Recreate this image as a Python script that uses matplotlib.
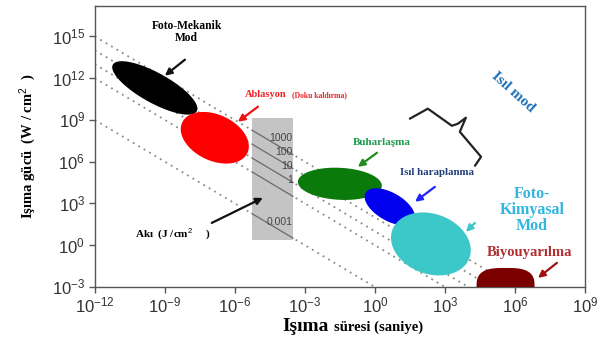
import numpy as np
import matplotlib
matplotlib.use("Agg")
import matplotlib.pyplot as plt
from matplotlib.ticker import FixedLocator, FuncFormatter

plt.rcParams["mathtext.fontset"] = "custom"
plt.rcParams["mathtext.rm"] = "Liberation Sans"
plt.rcParams["mathtext.it"] = "Liberation Sans"
SERIF = "Liberation Serif"

# regions: (label, log10 time [s], log10 irradiance [W/cm2], semi-axes px, angle, colour)
region_names = ["Foto-Mekanik", "Ablasyon", "Buharlasma", "Isil haraplanma", "Foto-Kimyasal", "Biyouyarilma"]
region_logt = [-9.43, -6.86, -1.5, 0.64, 2.4, 5.6]
region_logi = [11.3, 7.72, 4.41, 2.76, 0.09, -3.0]
region_a = [48, 36, 42, 28, 41, 29]
region_b = [15, 23, 16, 14, 30, 19]
region_angle = [-29, -25, -3, -30, -20, 0]
region_power = [2, 2, 2, 2, 2, 3]
region_colors = ["#000000", "#ff0000", "#0a7a0a", "#0000ee", "#3cc8c8", "#7a0000"]

# fluence lines (J/cm2)
fluences = [1000, 100, 10, 1, 0.001]
fluence_labels = ["1000", "100", "10", "1", "0.001"]

xticks = [-12, -9, -6, -3, 0, 3, 6, 9]
yticks = [-3, 0, 3, 6, 9, 12, 15]

fig = plt.figure(figsize=(6.08, 3.42), dpi=100)
ax = fig.add_axes([0.156, 0.161, 0.806, 0.822])
ax.set_xscale("log")
ax.set_yscale("log")
ax.set_xlim(1e-12, 1e9)
ax.set_ylim(1e-3, 10**17.2)

fw, fh = fig.get_size_inches() * fig.dpi
pos = ax.get_position()
sx = pos.width * fw / 21.0
sy = pos.height * fh / 20.2

# fluence lines
t = np.logspace(-12, 9, 400)
for E in fluences:
    ax.plot(t, E / t, color="#8a8a8a", lw=1.3, ls=(0, (1, 2.5)), zorder=1)

# grey box with solid lines
bx0, bx1, by0, by1 = -5.27, -3.51, 0.38, 9.16
ax.fill([10**bx0, 10**bx1, 10**bx1, 10**bx0], [10**by0, 10**by0, 10**by1, 10**by1],
        color="#c4c4c4", zorder=2, lw=0)
tb = np.logspace(bx0, bx1, 50)
for E, lab in zip(fluences, fluence_labels):
    yy = E / tb
    m = (yy >= 10**by0) & (yy <= 10**by1)
    ax.plot(tb[m], yy[m], color="#6a6a6a", lw=0.9, zorder=3)
    ax.text(10**-3.52, E / 10**-3.52 * 10**1.15, lab, ha="right", va="center",
            fontsize=7.5, color="#444444", family="Liberation Sans", zorder=4)

# regions
th = np.linspace(0, 2 * np.pi, 300)
for cx, cy, a, b, ang, n, c in zip(region_logt, region_logi, region_a, region_b,
                                    region_angle, region_power, region_colors):
    u = a * np.sign(np.cos(th)) * np.abs(np.cos(th)) ** (2 / n)
    v = b * np.sign(np.sin(th)) * np.abs(np.sin(th)) ** (2 / n)
    r = np.deg2rad(ang)
    px = u * np.cos(r) - v * np.sin(r)
    py = u * np.sin(r) + v * np.cos(r)
    ax.fill(10 ** (cx + px / sx), 10 ** (cy + py / sy), color=c, lw=0, zorder=5)


def arrow(tail, head, color):
    ax.annotate("", xy=(10**head[0], 10**head[1]), xytext=(10**tail[0], 10**tail[1]),
                arrowprops=dict(arrowstyle="-|>", color=color, lw=1.6, mutation_scale=10,
                                shrinkA=0, shrinkB=0), zorder=6)


arrow((-8.14, 13.33), (-9.0, 12.18), "#111111")
arrow((-5.01, 9.95), (-5.87, 8.87), "#ee1111")
arrow((0.09, 6.64), (-0.73, 5.63), "#1e8c1e")
arrow((2.57, 4.19), (1.72, 3.12), "#2222ff")
arrow((4.29, 1.6), (3.9, 0.96), "#3cc8c8")
arrow((7.8, -1.27), (6.99, -2.35), "#a01010")
arrow((-6.99, 1.6), (-4.8, 3.4), "#111111")

# brace
brace_x = [1.50, 2.27, 3.30, 3.56, 3.90, 3.64, 4.55, 4.29]
brace_y = [9.09, 9.81, 8.58, 8.73, 9.16, 8.15, 6.35, 5.71]
ax.plot(10 ** np.array(brace_x), 10 ** np.array(brace_y), color="#222222", lw=1.6,
        solid_joinstyle="round", solid_capstyle="round", zorder=6)

kw = dict(family=SERIF, weight="bold", zorder=7)
ax.text(10**-8.06, 10**15.3, "Foto-Mekanik\nMod", ha="center", va="center",
        fontsize=8.3, linespacing=1.05, **kw)
ax.text(10**-5.57, 10**10.81, "Ablasyon", ha="left", va="center", fontsize=7.5,
        color="#ee2222", **kw)
ax.text(10**-3.56, 10**10.75, "(Doku kaldırma)", ha="left", va="center", fontsize=5.5,
        color="#ee2222", **kw)
ax.text(10**0.3, 10**7.36, "Buharlaşma", ha="center", va="center", fontsize=8,
        color="#1a9a4a", **kw)
ax.text(10**2.66, 10**5.2, "Isıl haraplanma", ha="center", va="center", fontsize=7.8,
        color="#1f3d7a", **kw)
ax.text(10**5.92, 10**10.96, "Isıl mod", ha="center", va="center", fontsize=11,
        rotation=-42, color="#1e6fb5", **kw)
ax.text(10**6.73, 10**2.54, "Foto-\nKimyasal\nMod", ha="center", va="center",
        fontsize=11.5, linespacing=1.0, color="#33b5e0", **kw)
ax.text(10**6.64, 10**-0.55, "Biyouyarılma", ha="center", va="center", fontsize=10.5,
        color="#b03030", **kw)
ax.text(10**-10.29, 10**0.81, "Akı  (J /cm$^2$     )", ha="left", va="center",
        fontsize=8, **kw)

# axes styling
ax.xaxis.set_major_locator(FixedLocator([10.0**k for k in xticks]))
ax.yaxis.set_major_locator(FixedLocator([10.0**k for k in yticks]))
ax.xaxis.set_minor_locator(FixedLocator([]))
ax.yaxis.set_minor_locator(FixedLocator([]))
fmt = FuncFormatter(lambda v, p: r"$10^{%d}$" % round(np.log10(v)))
ax.xaxis.set_major_formatter(fmt)
ax.yaxis.set_major_formatter(fmt)
ax.tick_params(axis="both", direction="out", length=4, width=1, color="#555555",
               labelsize=12, labelcolor="#333333", pad=3)
ax.tick_params(top=False, right=False)
for s in ax.spines.values():
    s.set_color("#555555")
    s.set_linewidth(1)

ax.set_ylabel("Işıma gücü  (W / cm$^2$  )", family=SERIF, weight="bold", fontsize=10.5,
              labelpad=10)
fig.text(0.54, 0.032, "Işıma", ha="right", va="baseline", family=SERIF, weight="bold",
         fontsize=14)
fig.text(0.549, 0.032, "süresi (saniye)", ha="left", va="baseline", family=SERIF,
         weight="bold", fontsize=10.5)

fig.savefig("out.png", dpi=100)
